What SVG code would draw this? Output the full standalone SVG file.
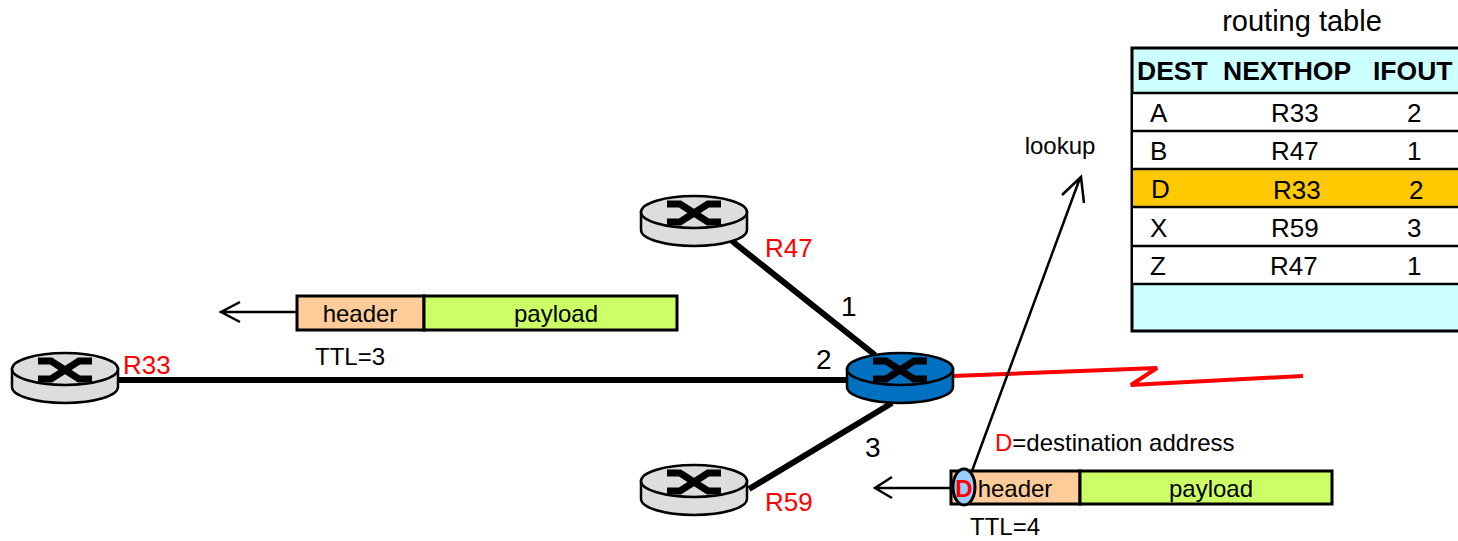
<svg xmlns="http://www.w3.org/2000/svg" width="1458" height="541" viewBox="0 0 1458 541">
<style>
text{font-family:"Liberation Sans",Arial,sans-serif;font-size:26px;fill:#000}
.s{font-size:24px}
.d{font-size:28px}
.m{text-anchor:middle}
.r{fill:#f00}
.b{font-weight:bold}
.h{font-weight:bold;font-size:26.5px}
.link{stroke:#000;stroke-width:6;fill:none}
.thin{stroke:#000;stroke-width:2.5;fill:none}
.rule{stroke:#000;stroke-width:2.5}
.box{stroke:#000;stroke-width:3}
</style>
<defs>
<g id="router">
<path d="M-53,0V18A53,16 0 0 0 53,18V0Z" stroke="#000" stroke-width="2.5"/>
<ellipse cx="0" cy="0" rx="53" ry="16" stroke="#000" stroke-width="2.5"/>
<path d="M-27,-8H-14L14,10H27M-27,10H-14L14,-8H27" fill="none" stroke="#000" stroke-width="7"/>
</g>
</defs>
<g id="connectors">
<path class="link" d="M118,380H850"/>
<path class="link" d="M732,241L875,355"/>
<path class="link" d="M749,489L892,403"/>
<path d="M953,376L1157,368L1131,385L1303,376" fill="none" stroke="#f00" stroke-width="4" stroke-linejoin="bevel"/>
<path class="thin" d="M972,471L1080,178M1062,195L1081,177L1084,203"/>
<path class="thin" d="M296,312H221M240,302L221,312L240,322"/>
<path class="thin" d="M951,488H875M892,477L875,488L892,498"/>
</g>
<g id="router-r47"><use href="#router" x="694" y="212" fill="#ddd"/><text class="r" x="765" y="257">R47</text></g>
<g id="router-r33"><use href="#router" x="65" y="369" fill="#ddd"/><text class="r" x="123" y="374">R33</text></g>
<g id="router-r59"><use href="#router" x="694" y="481" fill="#ddd"/><text class="r" x="765" y="511">R59</text></g>
<g id="router-center"><use href="#router" x="900" y="369" fill="#0070c0"/></g>
<g id="interface-labels">
<text class="d" x="841" y="316">1</text>
<text class="d" x="816" y="369">2</text>
<text class="d" x="865" y="457">3</text>
</g>
<g id="packet-ttl3">
<rect class="box" x="297" y="296" width="127" height="34" fill="#ffcc99"/>
<rect class="box" x="424" y="296" width="253" height="34" fill="#ccff66"/>
<text class="m s" x="360" y="322">header</text>
<text class="m s" x="556" y="322">payload</text>
<text class="m s" x="350" y="365">TTL=3</text>
</g>
<g id="packet-ttl4">
<rect class="box" x="951" y="471" width="129" height="33" fill="#ffcc99"/>
<rect class="box" x="1080" y="471" width="252" height="33" fill="#ccff66"/>
<ellipse cx="964" cy="487" rx="11" ry="18" fill="#99ccff" stroke="#000" stroke-width="3"/>
<text class="m r b s" x="964" y="497">D</text>
<text class="m s" x="1015" y="497">header</text>
<text class="m s" x="1211" y="497">payload</text>
<text class="m s" x="1005" y="535">TTL=4</text>
<text class="s" x="995" y="451"><tspan class="r">D</tspan>=destination address</text>
</g>
<g id="lookup"><text class="m s" x="1060" y="154">lookup</text></g>
<g id="routing-table">
<text class="m" x="1302" y="31" style="font-size:29px">routing table</text>
<rect x="1132" y="48" width="328" height="283" fill="#ccffff" stroke="#000" stroke-width="3"/>
<rect x="1133" y="93" width="325" height="191" fill="#fff"/>
<rect x="1133" y="169" width="325" height="38" fill="#ffc800"/>
<path class="rule" d="M1133,93H1458M1133,131H1458M1133,169H1458M1133,207H1458M1133,246H1458M1133,284H1458"/>
<text class="h" x="1137" y="80">DEST</text>
<text class="h" x="1223" y="80">NEXTHOP</text>
<text class="h" x="1373" y="80">IFOUT</text>
<text x="1150" y="122">A</text><text x="1271" y="122">R33</text><text x="1407" y="122">2</text>
<text x="1150" y="160">B</text><text x="1271" y="160">R47</text><text x="1407" y="160">1</text>
<text x="1151" y="198">D</text><text x="1273" y="199">R33</text><text x="1409" y="199">2</text>
<text x="1150" y="237">X</text><text x="1271" y="237">R59</text><text x="1407" y="237">3</text>
<text x="1150" y="275">Z</text><text x="1270" y="275">R47</text><text x="1407" y="275">1</text>
</g>
</svg>
